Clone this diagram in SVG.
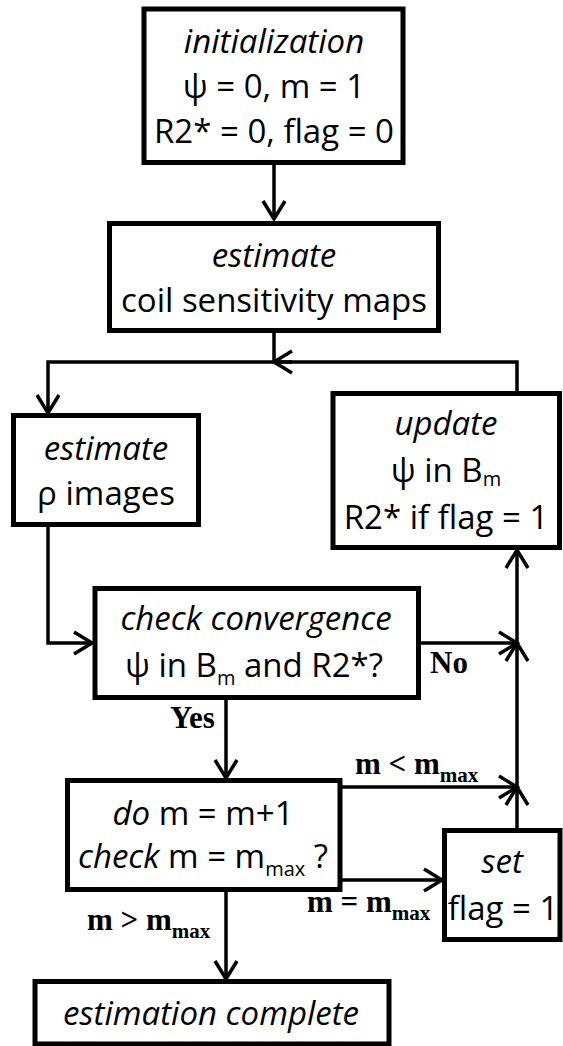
<svg xmlns="http://www.w3.org/2000/svg" width="563" height="1046" viewBox="0 0 563 1046">
<defs>
<style>
.box{fill:#fff;stroke:#000;stroke-width:5}
.t{font-family:"Open Sans","Liberation Sans",sans-serif;font-size:33px;fill:#000;text-anchor:middle}
.i{font-style:italic}
.sub{font-size:20px}
.lbl{font-family:"Liberation Serif","Times New Roman",serif;font-weight:bold;font-size:31px;fill:#000}
.lsub{font-size:21px}
.c{fill:none;stroke:#000;stroke-width:3.5}
</style>
<marker id="arr" viewBox="-22 -14 26 28" refX="0" refY="0" markerWidth="26" markerHeight="28" markerUnits="userSpaceOnUse" orient="auto">
<path d="M-18,-11 L0,0 L-18,11" fill="none" stroke="#000" stroke-width="3.5"/>
</marker>
</defs>
<rect width="563" height="1046" fill="#fff"/>
<g id="connectors">
<path class="c" d="M274,165 V219" marker-end="url(#arr)"/>
<path class="c" d="M274,333 V362"/>
<path class="c" d="M517,392 V362 H48 V413" marker-end="url(#arr)"/>
<path class="c" d="M292,362 H274" marker-end="url(#arr)"/>
<path class="c" d="M48,525 V643 H92" marker-end="url(#arr)"/>
<path class="c" d="M419,643 H517" marker-end="url(#arr)"/>
<path class="c" d="M226,700 V778" marker-end="url(#arr)"/>
<path class="c" d="M342,787 H517" marker-end="url(#arr)"/>
<path class="c" d="M342,880 H442" marker-end="url(#arr)"/>
<path class="c" d="M517,829 V787" marker-end="url(#arr)"/>
<path class="c" d="M517,787 V643" marker-end="url(#arr)"/>
<path class="c" d="M517,643 V550" marker-end="url(#arr)"/>
<path class="c" d="M226,892 V979" marker-end="url(#arr)"/>
</g>
<g id="labels">
<text class="lbl" x="170" y="728">Yes</text>
<text class="lbl" x="430" y="673">No</text>
<text class="lbl" x="355" y="774">m &lt; m<tspan class="lsub" dy="8">max</tspan></text>
<text class="lbl" x="307" y="912">m = m<tspan class="lsub" dy="8">max</tspan></text>
<text class="lbl" x="87" y="930">m &gt; m<tspan class="lsub" dy="8">max</tspan></text>
</g>
<g id="init">
<rect class="box" x="144" y="9" width="259" height="153.5"/>
<text class="t i" x="274" y="53">initialization</text>
<text class="t" x="274" y="98">ψ = 0, m = 1</text>
<text class="t" x="274" y="143">R2* = 0, flag = 0</text>
</g>
<g id="coil">
<rect class="box" x="109.5" y="223.5" width="329" height="107"/>
<text class="t i" x="274" y="267">estimate</text>
<text class="t" x="274" y="312">coil sensitivity maps</text>
</g>
<g id="rho">
<rect class="box" x="13.5" y="415.5" width="185" height="109"/>
<text class="t i" x="106" y="460">estimate</text>
<text class="t" x="106" y="505">ρ images</text>
</g>
<g id="update">
<rect class="box" x="333" y="393.5" width="226.5" height="154"/>
<text class="t i" x="446" y="435">update</text>
<text class="t" x="446" y="482">ψ in B<tspan class="sub" dy="4">m</tspan></text>
<text class="t" x="446" y="529">R2* if flag = 1</text>
</g>
<g id="check">
<rect class="box" x="95" y="588.5" width="323.5" height="109"/>
<text class="t i" x="256" y="630">check convergence</text>
<text class="t" x="254" y="677">ψ in B<tspan class="sub" dy="8">m</tspan><tspan dy="-8"> and R2*?</tspan></text>
</g>
<g id="do">
<rect class="box" x="67.5" y="780.5" width="272.5" height="109"/>
<text class="t" x="203" y="825"><tspan class="i">do</tspan> m = m+1</text>
<text class="t" x="203" y="868"><tspan class="i">check</tspan> m = m<tspan class="sub" dy="8">max</tspan><tspan dy="-8"> ?</tspan></text>
</g>
<g id="set">
<rect class="box" x="444.5" y="830.5" width="115.5" height="109"/>
<text class="t i" x="502" y="873">set</text>
<text class="t" x="503" y="920">flag = 1</text>
</g>
<g id="complete">
<rect class="box" x="35" y="981.5" width="354" height="62.5"/>
<text class="t i" x="211" y="1025">estimation complete</text>
</g>
</svg>
